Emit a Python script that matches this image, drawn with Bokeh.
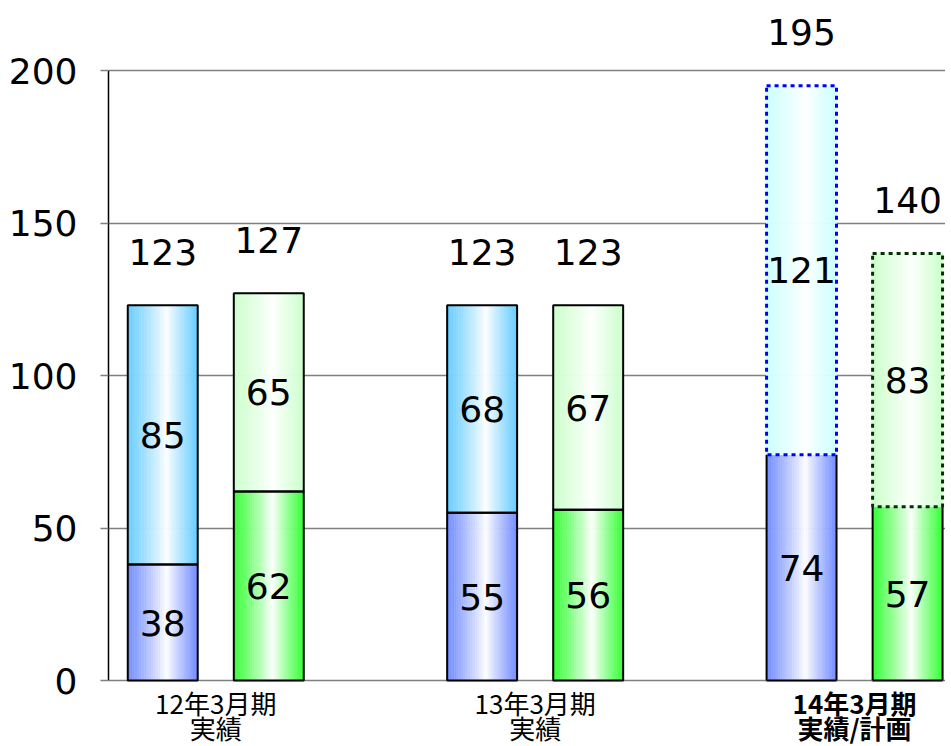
import numpy as np
from bokeh.plotting import figure
from bokeh.models import Range1d, FixedTicker, ColumnDataSource
from bokeh.embed import file_html
from bokeh.resources import INLINE
from bokeh.core.properties import value

# ---- data ----
categories = ["12年3月期\n実績", "13年3月期\n実績", "14年3月期\n実績/計画"]
blue_lower = [38, 55, 74]
blue_upper = [85, 68, 121]
green_lower = [62, 56, 57]
green_upper = [65, 67, 83]
plan_upper = [False, False, True]
y_ticks = [0, 50, 100, 150, 200]

# ---- styles ----
NUM_FONT = "DejaVu Sans"
CJK_FONT = "Noto Sans CJK JP"
BAR_W = 0.219
OFF = 0.166
PX_PER_UNIT = 3.05
C_BLUE_LO = (0x70, 0x8C, 0xFF)
C_BLUE_UP = (0x66, 0xCC, 0xFF)
C_GREEN_LO = (0x33, 0xFF, 0x33)
C_GREEN_UP = (0xCC, 0xFF, 0xCC)
C_BLUE_PLAN = (0xCC, 0xFF, 0xFF)
C_GREEN_PLAN = (0xCC, 0xFF, 0xCC)

p = figure(width=945, height=745,
           x_range=Range1d(-0.3358, 2.2847), y_range=Range1d(-65 / PX_PER_UNIT, 680 / PX_PER_UNIT),
           output_backend="svg", toolbar_location=None,
           min_border_left=108, min_border_right=0, min_border_top=0, min_border_bottom=0)
p.outline_line_color = None
p.background_fill_color = "white"
p.xaxis.visible = False
p.xgrid.visible = False
p.ygrid.ticker = FixedTicker(ticks=y_ticks)
p.ygrid.grid_line_color = "#808080"
p.ygrid.grid_line_width = 1.5
yax = p.yaxis[0]
yax.ticker = FixedTicker(ticks=y_ticks)
yax.bounds = (0, 200)
yax.axis_line_color = "black"
yax.axis_line_width = 1.5
yax.major_tick_out = 8
yax.major_tick_in = 0
yax.major_tick_line_color = "#808080"
yax.major_tick_line_width = 1.5
yax.minor_tick_line_color = None
yax.major_label_text_font = NUM_FONT
yax.major_label_text_font_size = "36px"
yax.major_label_text_color = "black"
yax.major_label_standoff = 23


def to_hex(c):
    return "#%02x%02x%02x" % tuple(int(round(v)) for v in c)


def grad_fill(xc, bottom, top, edge, n=30, peak=0.56):
    e = np.linspace(xc - BAR_W / 2, xc + BAR_W / 2, n + 1)
    mids = (e[:-1] + e[1:]) / 2
    frac = (mids - (xc - BAR_W / 2)) / BAR_W
    d = np.where(frac < peak, (peak - frac) / peak, (frac - peak) / (1 - peak))
    d = d ** 0.9
    white = np.array([255.0, 255.0, 255.0])
    edge = np.array(edge, dtype=float)
    cols = [to_hex(white + (edge - white) * di) for di in d]
    p.quad(left=e[:-1], right=e[1:], bottom=bottom, top=top,
           fill_color=cols, line_color=cols, line_width=0.6)


centers = np.arange(len(categories), dtype=float)
series = [
    (centers - OFF, blue_lower, blue_upper, C_BLUE_LO, C_BLUE_UP, C_BLUE_PLAN, "#0000ff"),
    (centers + OFF, green_lower, green_upper, C_GREEN_LO, C_GREEN_UP, C_GREEN_PLAN, "#003300"),
]

# fills
for xs, lo, up, c_lo, c_up, c_plan, _ in series:
    for i in range(len(categories)):
        grad_fill(xs[i], 0, lo[i], c_lo)
        grad_fill(xs[i], lo[i], lo[i] + up[i], c_plan if plan_upper[i] else c_up)

# outlines
for xs, lo, up, c_lo, c_up, c_plan, dot_col in series:
    lo = np.array(lo, dtype=float)
    up = np.array(up, dtype=float)
    tot = lo + up
    act = [i for i in range(len(categories)) if not plan_upper[i]]
    pln = [i for i in range(len(categories)) if plan_upper[i]]
    p.quad(left=xs[act] - BAR_W / 2, right=xs[act] + BAR_W / 2, bottom=0, top=lo[act],
           fill_color=None, line_color="black", line_width=2)
    p.quad(left=xs[act] - BAR_W / 2, right=xs[act] + BAR_W / 2, bottom=lo[act], top=tot[act],
           fill_color=None, line_color="black", line_width=2)
    if pln:
        L = xs[pln] - BAR_W / 2
        R = xs[pln] + BAR_W / 2
        p.segment(x0=L, y0=0, x1=L, y1=lo[pln], line_color="black", line_width=2)
        p.segment(x0=R, y0=0, x1=R, y1=lo[pln], line_color="black", line_width=2)
        p.segment(x0=L, y0=0, x1=R, y1=0, line_color="black", line_width=2)
        p.quad(left=L, right=R, bottom=lo[pln], top=tot[pln], fill_color=None,
               line_color=dot_col, line_width=3, line_dash="4 4")

# segment value labels
TOTAL_GAP = 17.5
for xs, lo, up, *_ in series:
    lo = np.array(lo, dtype=float)
    up = np.array(up, dtype=float)
    src = ColumnDataSource(dict(
        x=np.concatenate([xs, xs, xs]),
        y=np.concatenate([lo / 2, lo + up / 2, lo + up + TOTAL_GAP]),
        t=[str(int(v)) for v in np.concatenate([lo, up, lo + up])],
    ))
    p.text(x="x", y="y", text="t", source=src, text_align="center", text_baseline="middle",
           text_font=value(NUM_FONT), text_font_size="36px", text_color="black")

# category labels (two lines, below the zero line, inside the frame)
LINE_Y = [-22 / PX_PER_UNIT, -47 / PX_PER_UNIT]
lines = [c.split("\n") for c in categories]
bold = [i == len(categories) - 1 for i in range(len(categories))]
for k in range(2):
    for is_bold in (False, True):
        idx = [i for i in range(len(categories)) if bold[i] == is_bold]
        src = ColumnDataSource(dict(x=centers[idx], y=[LINE_Y[k]] * len(idx),
                                    t=[lines[i][k] for i in idx]))
        p.text(x="x", y="y", text="t", source=src, text_align="center",
               text_baseline="middle", text_font=value(CJK_FONT),
               text_font_size="26px", text_font_style="bold" if is_bold else "normal",
               text_line_height=1.0, text_color="black")

open("out.html", "w").write(file_html(p, INLINE))
